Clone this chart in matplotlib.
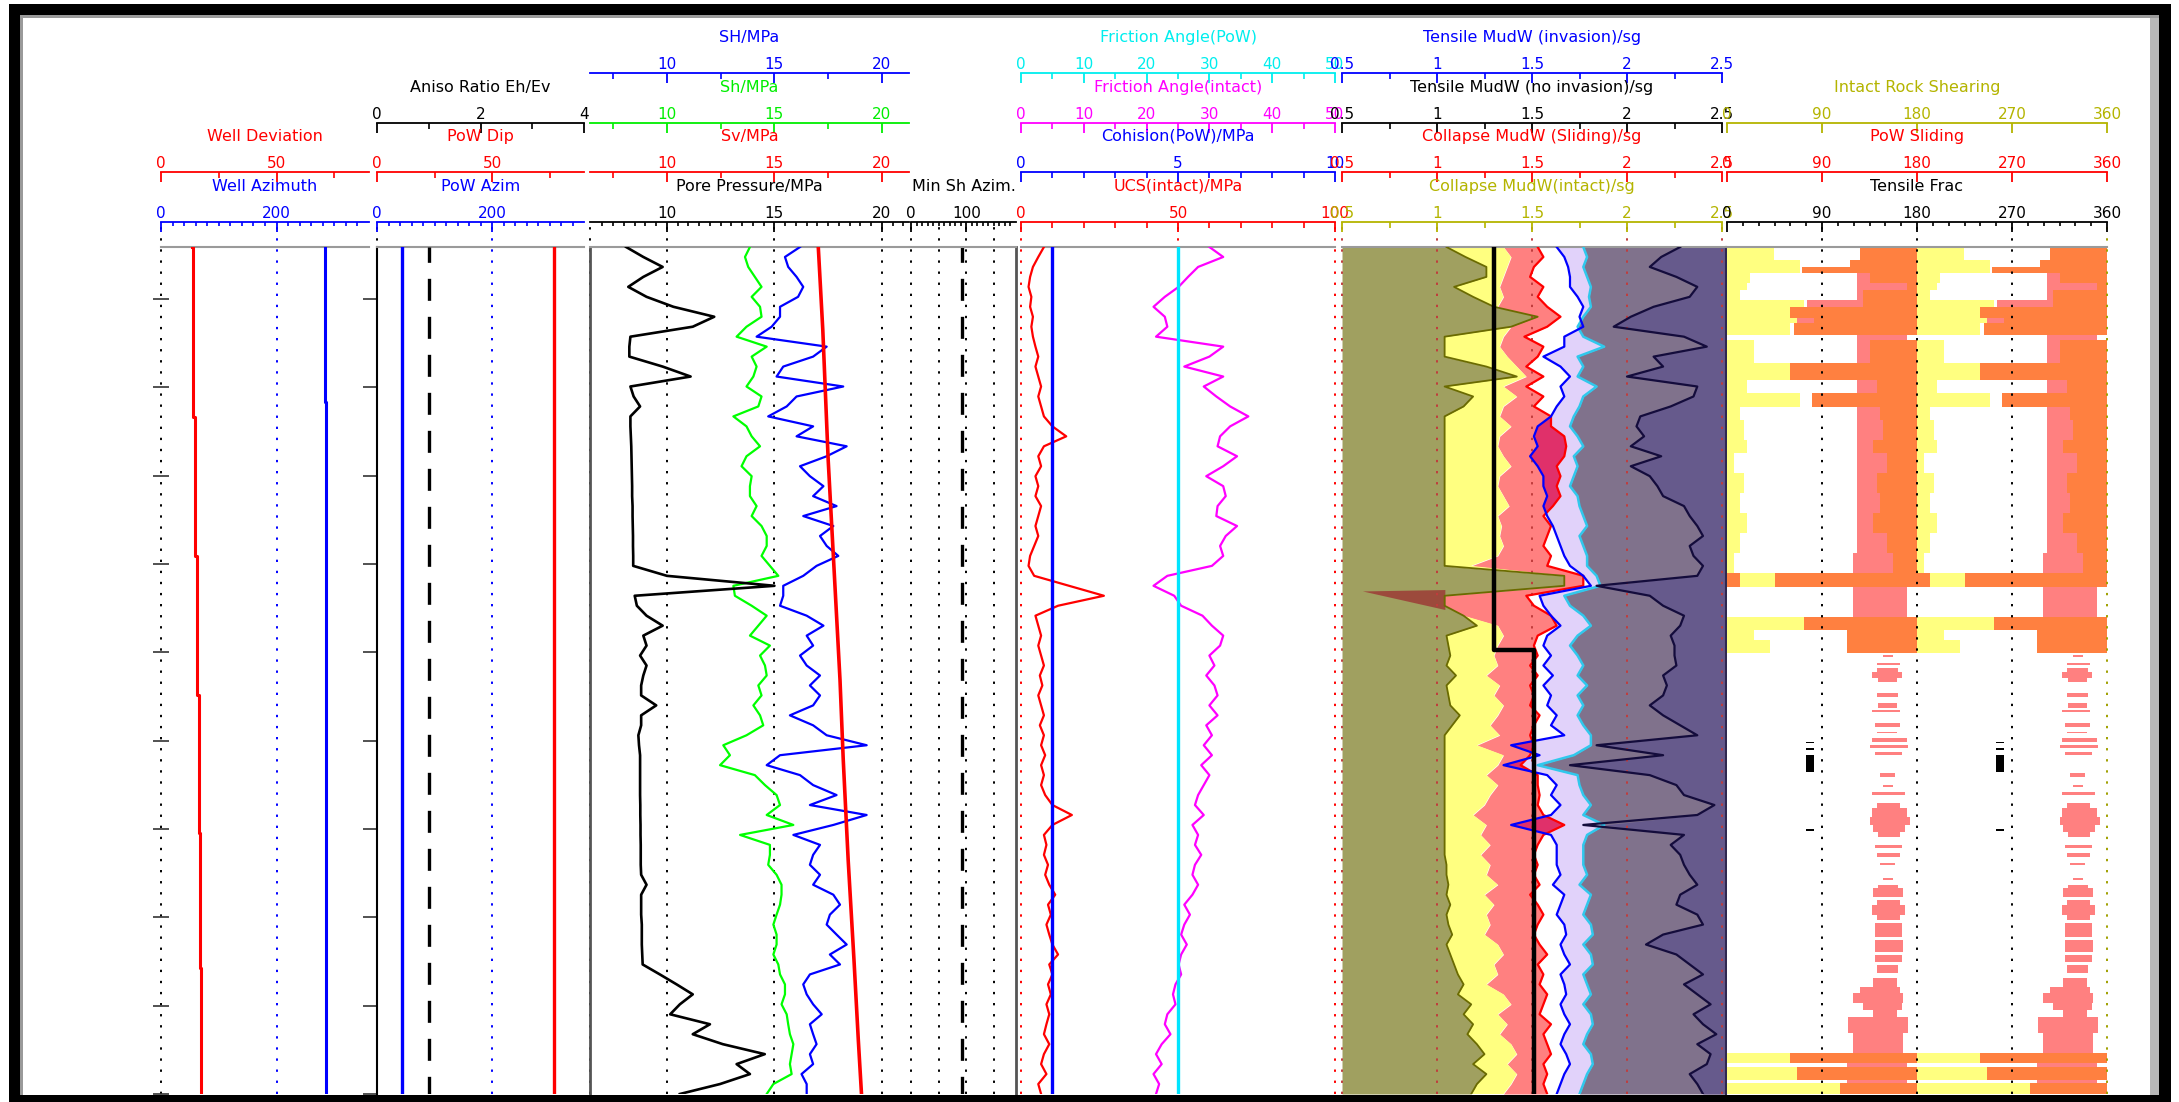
import numpy as np
import matplotlib
matplotlib.use("Agg")
import matplotlib.pyplot as plt
from matplotlib.patches import Rectangle

plt.rcParams['font.family'] = ['DejaVu Sans']

# ---------------------------------------------------------------- depth frame
DEPTH_TOP, DEPTH_BASE = 1041.0, 2000.0
depth_ticks = [1100, 1200, 1300, 1400, 1500, 1600, 1700, 1800, 1900, 2000]
N_SAMPLES = 86

# ---------------------------------------------------------------- track 1/2
well_dev_depth = [1041, 1233, 1391, 1548, 1705, 1857, 2000]
well_dev = [13.3, 14.0, 14.8, 15.6, 16.3, 16.8, 17.3]
well_azi_depth = [1041, 1217, 1217, 2000]
well_azi = [283.5, 283.5, 285.0, 285.0]
pow_depth = [1041, 2000]
pow_azim = [43.0, 43.0]
pow_dip = [76.8, 76.8]
aniso_ratio = [1.0, 1.0]

# ---------------------------------------------------------------- track 3 (MPa)
pore_pressure = [
    8.10, 8.90, 9.80, 8.90, 8.20, 9.05, 10.30, 12.20, 11.20, 8.30,
    8.25, 8.25, 9.80, 11.10, 8.30, 8.45, 8.75, 8.30, 8.30, 8.32,
    8.34, 8.35, 8.36, 8.37, 8.38, 8.38, 8.40, 8.40, 8.41, 8.42,
    8.42, 8.43, 8.43, 10.00, 15.00, 8.50, 8.60, 9.05, 9.80, 8.90,
    9.05, 8.75, 9.05, 8.90, 8.80, 8.80, 9.50, 8.80, 8.80, 8.67,
    8.70, 8.75, 8.75, 8.75, 8.75, 8.75, 8.76, 8.76, 8.77, 8.77,
    8.78, 8.78, 8.78, 8.80, 9.05, 8.80, 8.80, 8.80, 8.83, 8.83,
    8.83, 8.85, 8.87, 9.67, 10.45, 11.20, 10.60, 10.15, 12.00, 11.20,
    12.60, 14.55, 13.24, 13.86, 12.47, 10.60]
sh_min = [
    13.86, 13.63, 13.78, 14.09, 14.40, 13.94, 14.33, 14.40, 13.70, 13.24,
    14.64, 13.94, 14.17, 14.02, 13.70, 14.40, 14.25, 13.09, 13.70, 13.94,
    14.33, 13.70, 13.47, 13.94, 13.86, 13.86, 14.17, 13.94, 14.40, 14.64,
    14.64, 14.40, 14.79, 15.18, 13.09, 13.16, 13.94, 14.64, 14.25, 13.86,
    14.79, 14.33, 14.56, 14.64, 14.25, 14.40, 14.02, 14.33, 14.48, 13.70,
    12.62, 12.93, 12.47, 14.09, 14.56, 15.10, 15.26, 14.64, 15.88, 13.40,
    14.79, 14.79, 14.71, 15.10, 15.33, 15.33, 15.26, 15.10, 14.95, 15.10,
    15.10, 14.95, 15.18, 15.26, 15.49, 15.49, 15.33, 15.57, 15.64, 15.72,
    15.88, 15.80, 15.72, 15.80, 14.95, 14.64]
sh_max = [
    16.19, 15.49, 15.64, 16.03, 16.34, 16.10, 15.26, 15.26, 14.87, 14.17,
    17.43, 16.80, 15.41, 15.10, 18.20, 16.03, 15.57, 14.71, 16.80, 16.03,
    18.36, 17.43, 16.19, 16.65, 17.28, 16.80, 17.89, 16.34, 17.74, 17.12,
    17.43, 17.97, 16.96, 16.34, 15.41, 15.41, 15.26, 16.50, 17.28, 16.50,
    16.80, 16.19, 16.50, 17.12, 16.65, 17.12, 16.80, 15.72, 16.80, 17.43,
    19.29, 15.26, 14.64, 16.19, 16.80, 17.89, 16.65, 19.29, 17.74, 15.88,
    17.12, 16.80, 16.65, 17.12, 16.80, 17.74, 18.05, 17.58, 17.43, 17.89,
    18.36, 17.58, 18.05, 16.65, 16.34, 16.50, 16.80, 17.20, 16.65, 16.80,
    16.96, 16.65, 16.80, 16.26, 16.50, 16.50]
sv_depth = [1041, 1135, 1282, 1395, 1531, 1621, 1735, 1848, 1938, 2000]
sv = [17.04, 17.25, 17.50, 17.75, 18.05, 18.20, 18.43, 18.70, 18.90, 19.05]
min_sh_azim = [92.0, 92.0]

# ---------------------------------------------------------------- track 4
friction_intact = [
    30.0, 32.2, 28.2, 26.6, 25.1, 22.9, 21.1, 22.9, 23.3, 21.5,
    32.2, 30.0, 26.0, 32.2, 29.1, 31.1, 33.3, 36.2, 33.3, 31.7,
    31.3, 34.4, 32.2, 29.5, 32.2, 32.6, 31.3, 31.1, 34.4, 32.6,
    31.7, 32.2, 30.4, 23.3, 21.1, 24.4, 25.5, 28.9, 30.4, 32.2,
    31.7, 30.0, 30.8, 29.5, 30.8, 31.3, 30.0, 31.3, 29.5, 30.4,
    29.1, 30.4, 28.7, 30.0, 29.1, 28.2, 27.7, 29.1, 27.3, 28.2,
    27.7, 28.7, 27.7, 27.3, 28.2, 27.3, 26.0, 26.9, 26.0, 25.5,
    26.4, 25.5, 25.1, 25.5, 24.6, 24.2, 24.6, 23.3, 22.9, 23.8,
    22.4, 21.5, 22.4, 21.1, 22.0, 21.5]
ucs_intact = [
    7.3, 5.5, 3.8, 2.9, 2.4, 3.3, 2.9, 3.8, 3.3, 3.8,
    4.6, 5.5, 4.6, 5.5, 6.4, 5.5, 6.4, 7.3, 10.0, 14.4,
    7.3, 5.5, 6.4, 4.6, 5.5, 4.6, 6.4, 5.5, 4.6, 5.5,
    4.2, 2.9, 2.4, 4.2, 15.3, 26.4, 11.8, 4.6, 5.5, 6.4,
    5.5, 6.4, 7.3, 6.0, 6.8, 5.5, 6.4, 7.3, 6.0, 7.3,
    6.4, 7.7, 6.4, 7.3, 6.4, 7.7, 10.0, 16.2, 10.0, 7.3,
    8.1, 7.3, 8.6, 7.7, 9.0, 10.9, 8.6, 9.5, 8.1, 9.0,
    10.0, 11.8, 9.0, 10.0, 8.6, 9.5, 8.1, 9.0, 8.1, 7.3,
    9.0, 7.3, 6.4, 8.1, 5.5, 6.4]
friction_pow = [25.0, 25.0]
cohesion_pow = [1.0, 1.0]

# ---------------------------------------------------------------- track 5 (sg)
collapse_intact = [
    1.05, 1.15, 1.26, 1.26, 1.09, 1.19, 1.30, 1.53, 1.39, 1.04,
    1.04, 1.04, 1.26, 1.42, 1.04, 1.19, 1.14, 1.04, 1.04, 1.04,
    1.04, 1.04, 1.04, 1.04, 1.04, 1.04, 1.04, 1.04, 1.04, 1.04,
    1.04, 1.04, 1.04, 1.67, 1.67, 1.04, 1.04, 1.14, 1.21, 1.05,
    1.06, 1.07, 1.05, 1.10, 1.05, 1.06, 1.07, 1.12, 1.08, 1.04,
    1.04, 1.04, 1.04, 1.04, 1.04, 1.04, 1.04, 1.04, 1.04, 1.04,
    1.04, 1.04, 1.05, 1.05, 1.06, 1.05, 1.07, 1.05, 1.06, 1.08,
    1.05, 1.07, 1.09, 1.11, 1.14, 1.11, 1.18, 1.14, 1.19, 1.16,
    1.21, 1.25, 1.19, 1.26, 1.21, 1.18]
breakout_edge = [
    1.35, 1.39, 1.37, 1.35, 1.33, 1.35, 1.32, 1.42, 1.39, 1.35,
    1.33, 1.37, 1.42, 1.47, 1.35, 1.42, 1.35, 1.33, 1.39, 1.33,
    1.32, 1.35, 1.39, 1.33, 1.32, 1.35, 1.38, 1.32, 1.34, 1.33,
    1.35, 1.32, 1.18, 1.67, 1.67, 1.04, 1.04, 1.14, 1.32, 1.35,
    1.32, 1.30, 1.32, 1.26, 1.33, 1.30, 1.35, 1.32, 1.28, 1.33,
    1.21, 1.35, 1.32, 1.26, 1.32, 1.28, 1.25, 1.19, 1.26, 1.23,
    1.28, 1.23, 1.28, 1.26, 1.32, 1.25, 1.30, 1.26, 1.28, 1.25,
    1.32, 1.35, 1.30, 1.32, 1.26, 1.35, 1.39, 1.32, 1.37, 1.33,
    1.39, 1.42, 1.37, 1.42, 1.39, 1.35]
collapse_sliding = [
    1.53, 1.56, 1.51, 1.49, 1.56, 1.53, 1.58, 1.65, 1.58, 1.46,
    1.56, 1.53, 1.47, 1.56, 1.47, 1.56, 1.51, 1.60, 1.60, 1.67,
    1.68, 1.67, 1.63, 1.65, 1.63, 1.65, 1.61, 1.56, 1.60, 1.58,
    1.56, 1.60, 1.58, 1.77, 1.77, 1.47, 1.51, 1.60, 1.63, 1.53,
    1.51, 1.53, 1.49, 1.53, 1.49, 1.51, 1.49, 1.54, 1.51, 1.49,
    1.51, 1.49, 1.44, 1.53, 1.53, 1.54, 1.53, 1.56, 1.67, 1.56,
    1.53, 1.51, 1.53, 1.51, 1.54, 1.49, 1.53, 1.56, 1.53, 1.51,
    1.54, 1.58, 1.53, 1.56, 1.54, 1.58, 1.56, 1.54, 1.60, 1.56,
    1.58, 1.60, 1.56, 1.58, 1.56, 1.58]
tensile_invasion = [
    1.63, 1.67, 1.69, 1.70, 1.70, 1.74, 1.77, 1.75, 1.77, 1.67,
    1.67, 1.56, 1.65, 1.70, 1.65, 1.67, 1.63, 1.60, 1.53, 1.51,
    1.53, 1.49, 1.53, 1.56, 1.56, 1.58, 1.56, 1.58, 1.61, 1.63,
    1.65, 1.67, 1.70, 1.77, 1.81, 1.54, 1.56, 1.60, 1.65, 1.58,
    1.56, 1.60, 1.56, 1.61, 1.56, 1.60, 1.58, 1.63, 1.60, 1.67,
    1.39, 1.54, 1.35, 1.58, 1.63, 1.60, 1.65, 1.60, 1.39, 1.60,
    1.63, 1.63, 1.63, 1.65, 1.61, 1.67, 1.65, 1.63, 1.67, 1.68,
    1.65, 1.67, 1.70, 1.65, 1.67, 1.68, 1.65, 1.67, 1.70, 1.67,
    1.65, 1.68, 1.70, 1.67, 1.65, 1.63]
tensile_limit = [
    1.77, 1.79, 1.77, 1.79, 1.81, 1.80, 1.81, 1.77, 1.74, 1.77,
    1.88, 1.74, 1.77, 1.74, 1.84, 1.77, 1.75, 1.72, 1.70, 1.74,
    1.77, 1.72, 1.74, 1.72, 1.70, 1.74, 1.75, 1.77, 1.79, 1.75,
    1.77, 1.79, 1.79, 1.84, 1.86, 1.67, 1.70, 1.77, 1.81, 1.74,
    1.70, 1.74, 1.77, 1.74, 1.79, 1.74, 1.77, 1.74, 1.77, 1.81,
    1.81, 1.72, 1.53, 1.74, 1.75, 1.77, 1.81, 1.77, 1.88, 1.79,
    1.77, 1.77, 1.77, 1.79, 1.75, 1.81, 1.79, 1.77, 1.81, 1.82,
    1.77, 1.81, 1.82, 1.77, 1.79, 1.81, 1.77, 1.81, 1.82, 1.79,
    1.77, 1.81, 1.82, 1.79, 1.77, 1.75]
tensile_no_invasion = [
    2.28, 2.18, 2.12, 2.26, 2.37, 2.33, 2.14, 2.02, 1.93, 2.30,
    2.42, 2.14, 2.19, 2.00, 2.37, 2.35, 2.23, 2.07, 2.05, 2.09,
    2.02, 2.18, 2.02, 2.12, 2.16, 2.19, 2.30, 2.33, 2.37, 2.40,
    2.33, 2.35, 2.40, 2.37, 1.84, 2.12, 2.19, 2.30, 2.28, 2.23,
    2.25, 2.25, 2.26, 2.19, 2.21, 2.19, 2.12, 2.19, 2.28, 2.37,
    1.84, 2.19, 1.70, 2.12, 2.26, 2.30, 2.46, 2.37, 1.77, 2.30,
    2.23, 2.28, 2.30, 2.33, 2.37, 2.28, 2.26, 2.37, 2.40, 2.19,
    2.10, 2.26, 2.33, 2.40, 2.30, 2.37, 2.44, 2.35, 2.40, 2.47,
    2.37, 2.44, 2.42, 2.33, 2.37, 2.40]
mud_depth = [1041, 1497, 1497, 2000]
mud_weight = [1.30, 1.30, 1.51, 1.51]
sliding_spike_depth = [1429.4, 1431.0, 1452.0]
sliding_spike_sg = [1.044, 0.61, 1.044]

# ---------------------------------------------------------------- track 6 (deg)
t6_top = [
    1041.0, 1055.7, 1063.3, 1070.8, 1082.1, 1089.7, 1101.0, 1108.5, 1121.8, 1127.4,
    1140.6, 1146.3, 1172.7, 1191.6, 1206.7, 1221.8, 1236.9, 1259.5, 1274.6, 1297.3,
    1319.9, 1342.5, 1365.2, 1387.8, 1410.5, 1425.6, 1459.5, 1474.6, 1485.9,
    1503.0, 1512.4, 1518.0, 1521.8, 1529.4, 1546.4, 1557.7, 1565.2, 1580.3, 1589.7,
    1597.3, 1604.8, 1612.4, 1637.0, 1650.1, 1657.7, 1670.9, 1676.6, 1686.0, 1695.4,
    1703.0, 1718.1, 1727.5, 1738.8, 1755.8, 1763.4, 1767.2, 1780.3, 1786.0, 1797.3,
    1806.8, 1825.6, 1842.6, 1853.9, 1869.0, 1878.5, 1886.0, 1897.3, 1904.9, 1912.4,
    1931.3, 1954.0, 1965.3, 1969.0, 1984.1, 1987.9]
t6_base = [
    1055.7, 1063.3, 1070.8, 1082.1, 1089.7, 1101.0, 1108.5, 1121.8, 1127.4, 1140.6,
    1146.3, 1172.7, 1191.6, 1206.7, 1221.8, 1236.9, 1259.5, 1274.6, 1297.3, 1319.9,
    1342.5, 1365.2, 1387.8, 1410.5, 1425.6, 1459.5, 1474.6, 1485.9, 1501.1,
    1504.8, 1514.3, 1521.8, 1529.4, 1533.1, 1550.1, 1563.3, 1567.1, 1584.1, 1591.6,
    1601.1, 1608.6, 1616.2, 1640.7, 1652.0, 1661.5, 1676.6, 1686.0, 1695.4, 1703.0,
    1708.6, 1721.8, 1731.3, 1740.7, 1757.7, 1767.2, 1776.6, 1786.0, 1797.3, 1803.0,
    1821.9, 1838.8, 1850.2, 1863.4, 1878.5, 1886.0, 1897.3, 1904.9, 1912.4, 1931.3,
    1954.0, 1965.3, 1969.0, 1984.1, 1987.9, 2000.0]
nan = float('nan')
shear_to = [
    44.1, 69.3, 69.3, 22.0, 18.9, 12.6, 72.5, 59.9, 66.2, 59.9,
    0, 25.2, 59.9, 18.9, 69.3, 12.6, 15.7, 18.9, 6.3, 15.7,
    12.6, 18.9, 12.6, 6.3, 45.7, 0, 72.5, 25.2, 41.0] + [0] * 41 + [59.9, 0, 66.2, 0, 107.2]
slide_from = [
    126.1, 116.6, 70.9, 135.5, 170.2, 129.2, 129.2, 59.9, 82.0, 63.0,
    nan, 135.5, 59.9, 141.9, 80.4, 145.0, 148.2, 138.7, 151.3, 141.9,
    145.0, 138.7, 151.3, 157.6, 45.7, nan, 72.5, 113.5, 113.5] + [nan] * 41 + [59.9, nan, 66.2, nan, 107.2]
slide_to = [
    180, 180, 180, 180, 180, 180, 180, 180, 180, 180,
    nan, 180, 180, 180, 180, 180, 180, 180, 180, 180,
    180, 180, 180, 180, 192.3, nan, 180, 180, 180] + [nan] * 41 + [180, nan, 180, nan, 180]
pow_lo = [
    126.1, 122.9, 122.9, 122.9, 122.9, 122.9, 75.6, 122.9, 66.2, 122.9,
    122.9, 122.9, 122.9, 122.9, 122.9, 122.9, 122.9, 122.9, 122.9, 122.9,
    122.9, 122.9, 122.9, 119.8, 119.8, 119.8, 119.8, 119.8, 113.5,
    148.2, 141.9, 141.9, 137.1, 143.4, 141.9, 143.4, 137.1, 140.3, 141.9,
    137.1, 135.5, 140.3, 145.0, 148.2, 137.1, 141.9, 137.1, 135.5, 138.7,
    143.4, 140.3, 141.9, 145.0, 148.2, 143.4, 138.7, 141.9, 137.1, 141.9,
    140.3, 140.3, 140.3, 141.9, 138.7, 126.1, 119.8, 129.2, 138.7, 115.1,
    119.8, nan, 113.5, nan, 113.5, nan]
pow_hi = [176.5] * 10 + [170.2] + [176.5] * 14 + [170.2] + [176.5] * 3 + [
    157.6, 163.9, 162.3, 165.5, 160.8, 162.3, 160.8, 163.9, 163.9, 160.8,
    170.2, 171.8, 165.5, 159.2, 157.6, 168.7, 163.9, 170.2, 173.4, 168.7,
    163.9, 165.5, 163.9, 159.2, 157.6, 162.3, 167.1, 163.9, 168.7, 163.9,
    165.5, 167.1, 165.5, 162.3, 160.8, 163.9, 167.1, 165.5, 160.8, 171.8,
    167.1, nan, 170.2, nan, 170.2, nan]
frac_top = [1601.1, 1608.6, 1616.2, 1700.0]
frac_base = [1602.8, 1610.3, 1635.0, 1702.3]
frac_lo = [75.0, 75.0, 75.0, 75.0]
frac_hi = [82.0, 82.0, 82.0, 82.0]

# ---------------------------------------------------------------- colours
RED, BLUE, GREEN, BLACK = '#ff0000', '#0000ff', '#00ee00', '#000000'
CYAN, MAGENTA, OLIVE_TXT = '#00eeee', '#ff00ff', '#b4b400'
OLIVE_FILL, YELLOW, SALMON = '#a0a060', '#ffff80', '#ff8080'
LAVENDER, CRIMSON = '#e1d2fa', '#e0306a'
GREY_PURPLE, DARK_PURPLE, NAVY = '#80728c', '#665a8c', '#140c3c'
ORANGE = '#ff8040'
GRID_DOTS = (0, (1.2, 4.5))
TITLE_SIZE, TICK_SIZE = 11.5, 11

# ---------------------------------------------------------------- layout
W, H = 2179, 1102
DATA_TOP, DATA_BOT = 247, 1094
ROW_Y = {1: 73, 2: 123, 3: 172, 4: 222}
HEAD_EXT = 1 + (DATA_TOP - ROW_Y[4]) / (DATA_BOT - DATA_TOP)

fig = plt.figure(figsize=(W / 100, H / 100), dpi=100)
fig.patch.set_facecolor('white')
depth = np.linspace(DEPTH_TOP, DEPTH_BASE, N_SAMPLES)


def data_axes(x0, x1, xlim):
    ax = fig.add_axes([x0 / W, 1 - DATA_BOT / H, (x1 - x0) / W, (DATA_BOT - DATA_TOP) / H])
    ax.set_xlim(*xlim)
    ax.set_ylim(DEPTH_BASE, DEPTH_TOP)
    ax.set_xticks([])
    ax.set_yticks([])
    for s in ax.spines.values():
        s.set_visible(False)
    ax.spines['top'].set_visible(True)
    ax.spines['top'].set_color('#9a9a9a')
    ax.spines['top'].set_linewidth(1.5)
    return ax


def overlay(ax, xlim):
    o = fig.add_axes(ax.get_position().bounds, sharey=ax)
    o.set_xlim(*xlim)
    o.patch.set_visible(False)
    o.axis('off')
    return o


def vgrid(ax, xs, color, z=1.5):
    for x in xs:
        ax.axvline(x, ymin=0, ymax=HEAD_EXT, color=color, ls=GRID_DOTS, lw=1.4,
                   clip_on=False, zorder=z)


def scale(x0, x1, row, lim, title, color, major, labels, minor=(), minor_len=4):
    y = ROW_Y[row]
    ax = fig.add_axes([x0 / W, 1 - y / H, (x1 - x0) / W, 1e-4])
    ax.set_xlim(*lim)
    ax.patch.set_visible(False)
    for s in ('left', 'right', 'bottom'):
        ax.spines[s].set_visible(False)
    ax.spines['top'].set_color(color)
    ax.spines['top'].set_linewidth(1.3)
    ax.set_yticks([])
    ax.xaxis.set_ticks_position('top')
    ax.set_xticks(major)
    ax.set_xticklabels(labels)
    ax.set_xticks(list(minor), minor=True)
    ax.tick_params(axis='x', which='major', direction='in', length=7, width=1.3,
                   color=color, labelcolor=color, labelsize=TICK_SIZE, pad=1.0)
    ax.tick_params(axis='x', which='minor', direction='in', length=minor_len,
                   width=1.2, color=color)
    ax.annotate(title, xy=(0.5, 1), xycoords='axes fraction', xytext=(0, 25.5),
                textcoords='offset points', ha='center', va='center',
                color=color, fontsize=TITLE_SIZE)
    return ax


# ---------------------------------------------------------------- track 1
ax1 = data_axes(161, 369, (0, 360))
ax1d = overlay(ax1, (0, 90))
vgrid(ax1, [0], BLACK)
vgrid(ax1, [200], BLUE)
ax1.plot(well_azi, well_azi_depth, color=BLUE, lw=2.2, zorder=3)
ax1d.plot(well_dev, well_dev_depth, color=RED, lw=2.2, drawstyle='steps-post')
ax1.set_yticks(depth_ticks)
ax1.tick_params(axis='y', direction='inout', length=12, width=1.2, color='#333333',
                labelleft=False)
scale(161, 369, 3, (0, 90), 'Well Deviation', RED, [0, 50], ['0', '50'], [25, 75])
scale(161, 369, 4, (0, 360), 'Well Azimuth', BLUE, [0, 200], ['0', '200'],
      list(range(20, 360, 20)), minor_len=3)

# ---------------------------------------------------------------- track 2
ax2 = data_axes(377, 584, (0, 360))
ax2.spines['left'].set_visible(True)
ax2.spines['left'].set_color(BLACK)
ax2.spines['left'].set_linewidth(1.5)
ax2p = overlay(ax2, (0, 90))
ax2a = overlay(ax2, (0, 4))
vgrid(ax2, [0], BLACK)
vgrid(ax2, [200], BLUE)
ax2.plot(pow_azim, pow_depth, color=BLUE, lw=2.4, zorder=3)
ax2p.plot(pow_dip, pow_depth, color=RED, lw=2.4)
ax2a.plot(aniso_ratio, pow_depth, color=BLACK, lw=2.4, ls=(2, (6.6, 4.8)))
ax2.set_yticks(depth_ticks)
ax2.tick_params(axis='y', direction='out', length=10, width=1.2, color='#333333',
                labelleft=False)
scale(377, 584, 2, (0, 4), 'Aniso Ratio Eh/Ev', BLACK, [0, 2, 4], ['0', '2', '4'], [1, 3])
scale(377, 584, 3, (0, 90), 'PoW Dip', RED, [0, 50], ['0', '50'], [25, 75])
scale(377, 584, 4, (0, 360), 'PoW Azim', BLUE, [0, 200], ['0', '200'],
      list(range(20, 360, 20)), minor_len=3)

# ---------------------------------------------------------------- track 3
PP_LIM = (6.42, 21.26)
ax3 = data_axes(590, 909, PP_LIM)
ax3.spines['left'].set_visible(True)
ax3.spines['left'].set_color('#555555')
ax3.spines['left'].set_linewidth(2)
vgrid(ax3, [PP_LIM[0], 10, 15, 20], BLACK)
ax3.plot(sh_min, depth, color='#00ff00', lw=1.6, zorder=3)
ax3.plot(sh_max, depth, color=BLUE, lw=1.6, zorder=4)
ax3.plot(pore_pressure, depth, color=BLACK, lw=1.9, zorder=5)
ax3.plot(sv, sv_depth, color=RED, lw=2.6, zorder=6)

ax3b = data_axes(911, 1016, (0, 190))
ax3b.spines['right'].set_visible(True)
ax3b.spines['right'].set_color('#555555')
ax3b.spines['right'].set_linewidth(2)
vgrid(ax3b, [0, 50, 100, 150], BLACK)
ax3b.plot(min_sh_azim, pow_depth, color=BLACK, lw=2.4, ls=(2, (6.6, 4.8)))

mpa_minor = [7.5, 12.5, 17.5]
scale(590, 909, 1, PP_LIM, 'SH/MPa', BLUE, [10, 15, 20], ['10', '15', '20'], mpa_minor)
scale(590, 909, 2, PP_LIM, 'Sh/MPa', GREEN, [10, 15, 20], ['10', '15', '20'], mpa_minor)
scale(590, 909, 3, PP_LIM, 'Sv/MPa', RED, [10, 15, 20], ['10', '15', '20'], mpa_minor)
scale(590, 909, 4, PP_LIM, 'Pore Pressure/MPa', BLACK, [10, 15, 20], ['10', '15', '20'],
      list(np.arange(7.0, 21.1, 0.5)), minor_len=3)
scale(911, 1016, 4, (0, 190), 'Min Sh Azim.', BLACK, [0, 100], ['0', '100'],
      list(range(10, 190, 10)), minor_len=3)

# ---------------------------------------------------------------- track 4
ax4 = data_axes(1021, 1335, (0, 100))
ax4f = overlay(ax4, (0, 50))
ax4c = overlay(ax4, (0, 10))
vgrid(ax4, [0, 50, 100], RED)
ax4f.plot(friction_intact, depth, color=MAGENTA, lw=1.6)
ax4.plot(ucs_intact, depth, color=RED, lw=1.6, zorder=3)
ax4c.plot(cohesion_pow, pow_depth, color=BLUE, lw=2.4)
ax4f.plot(friction_pow, pow_depth, color='#00e5ff', lw=2.4)

deg_major = [0, 10, 20, 30, 40, 50]
deg_labels = ['0', '10', '20', '30', '40', '50']
scale(1021, 1335, 1, (0, 50), 'Friction Angle(PoW)', CYAN, deg_major, deg_labels,
      [5, 15, 25, 35, 45])
scale(1021, 1335, 2, (0, 50), 'Friction Angle(intact)', MAGENTA, deg_major, deg_labels,
      [5, 15, 25, 35, 45])
scale(1021, 1335, 3, (0, 10), 'Cohision(PoW)/MPa', BLUE, [0, 5, 10], ['0', '5', '10'],
      [1, 2, 3, 4, 6, 7, 8, 9])
scale(1021, 1335, 4, (0, 100), 'UCS(intact)/MPa', RED, [0, 50, 100], ['0', '50', '100'],
      list(range(10, 100, 10)))

# ---------------------------------------------------------------- track 5
A = np.array(collapse_intact)
B = np.array(breakout_edge)
C = np.array(collapse_sliding)
D = np.array(tensile_invasion)
E = np.array(tensile_limit)
F = np.array(tensile_no_invasion)
ax5 = data_axes(1342, 1726, (0.5, 2.5 + 4 / 190))
ax5.spines['right'].set_visible(True)
ax5.spines['right'].set_color('#302850')
ax5.spines['right'].set_linewidth(1.5)
x_lo, x_hi = ax5.get_xlim()
ax5.fill_betweenx(depth, B, C, where=C >= B, interpolate=True, color=SALMON, lw=0)
ax5.fill_betweenx(depth, A, B, where=B >= A, interpolate=True, color=YELLOW, lw=0)
ax5.fill_betweenx(depth, x_lo, A, color=OLIVE_FILL, lw=0)
ax5.fill_betweenx(depth, D, E, where=E >= D, interpolate=True, color=LAVENDER, lw=0)
ax5.fill_betweenx(depth, D, C, where=C > D, interpolate=True, color=CRIMSON, lw=0)
ax5.fill_betweenx(depth, E, x_hi, color=GREY_PURPLE, lw=0)
ax5.fill_betweenx(depth, np.maximum(E, F), x_hi, color=DARK_PURPLE, lw=0)
ax5.fill(sliding_spike_sg, sliding_spike_depth, color='#9c4a3c', lw=0)
vgrid(ax5, [0.5, 1.0, 1.5, 2.0, 2.5], '#c03c3c', z=4)
ax5.plot(A, depth, color='#6b6b00', lw=1.3, zorder=5)
ax5.plot(C, depth, color=RED, lw=1.6, zorder=5)
ax5.plot(E, depth, color='#30c8ec', lw=1.8, zorder=5)
ax5.plot(D, depth, color=BLUE, lw=1.6, zorder=6)
ax5.plot(F, depth, color=NAVY, lw=1.6, zorder=6)
ax5.plot(mud_weight, mud_depth, color=BLACK, lw=3.2, zorder=7)

sg_major = [0.5, 1.0, 1.5, 2.0, 2.5]
sg_labels = ['0.5', '1', '1.5', '2', '2.5']
sg_minor = [0.75, 1.25, 1.75, 2.25]
scale(1342, 1722, 1, (0.5, 2.5), 'Tensile MudW (invasion)/sg', BLUE, sg_major, sg_labels, sg_minor)
scale(1342, 1722, 2, (0.5, 2.5), 'Tensile MudW (no invasion)/sg', BLACK, sg_major, sg_labels, sg_minor)
scale(1342, 1722, 3, (0.5, 2.5), 'Collapse MudW (Sliding)/sg', RED, sg_major, sg_labels, sg_minor)
scale(1342, 1722, 4, (0.5, 2.5), 'Collapse MudW(intact)/sg', OLIVE_TXT, sg_major, sg_labels, sg_minor)

# ---------------------------------------------------------------- track 6
ax6 = data_axes(1727, 2107, (0, 360))
top6 = np.array(t6_top)
thick6 = np.array(t6_base) - top6
lo6, hi6 = np.array(pow_lo), np.array(pow_hi)
m = ~np.isnan(lo6)
for off in (0, 180):
    ax6.barh(top6[m], (hi6 - lo6)[m], left=lo6[m] + off, height=thick6[m],
             align='edge', color=SALMON, lw=0, zorder=1)
sh6 = np.array(shear_to, dtype=float)
m = sh6 > 0
for off in (0, 180):
    ax6.barh(top6[m], sh6[m], left=off, height=thick6[m], align='edge',
             color=YELLOW, lw=0, zorder=1.2)
sf6, st6 = np.array(slide_from), np.array(slide_to)
m = ~np.isnan(sf6)
for off in (-180, 0, 180):
    ax6.barh(top6[m], (st6 - sf6)[m], left=sf6[m] + off, height=thick6[m],
             align='edge', color=ORANGE, lw=0, zorder=1.4)
ft = np.array(frac_top)
for off in (0, 180):
    ax6.barh(ft, np.array(frac_hi) - np.array(frac_lo), left=np.array(frac_lo) + off,
             height=np.array(frac_base) - ft, align='edge', color=BLACK, lw=0, zorder=3)
vgrid(ax6, [90, 180, 270], BLACK, z=2)
vgrid(ax6, [360], '#a0a000', z=2)

az_major = [0, 90, 180, 270, 360]
az_labels = ['0', '90', '180', '270', '360']
scale(1727, 2107, 2, (0, 360), 'Intact Rock Shearing', OLIVE_TXT, az_major, az_labels)
scale(1727, 2107, 3, (0, 360), 'PoW Sliding', RED, az_major, az_labels)
scale(1727, 2107, 4, (0, 360), 'Tensile Frac', BLACK, az_major, az_labels,
      list(range(15, 360, 15)), minor_len=3)


# ---------------------------------------------------------------- window frame
def band(x0, y0, x1, y1, color):
    fig.add_artist(Rectangle((x0 / W, 1 - y1 / H), (x1 - x0) / W, (y1 - y0) / H,
                             transform=fig.transFigure, color=color, lw=0, zorder=20))


band(2150, 15, 2159, 1095, '#b8b8b8')
band(20, 15, 23, 1095, '#9a9a9a')
band(20, 15, 2159, 18, '#9a9a9a')
band(9, 4, 2171, 15, BLACK)
band(9, 4, 20, 1102, BLACK)
band(2159, 4, 2171, 1102, BLACK)
band(9, 1095, 2171, 1102, BLACK)

fig.savefig('out.png', dpi=100, facecolor='white')
